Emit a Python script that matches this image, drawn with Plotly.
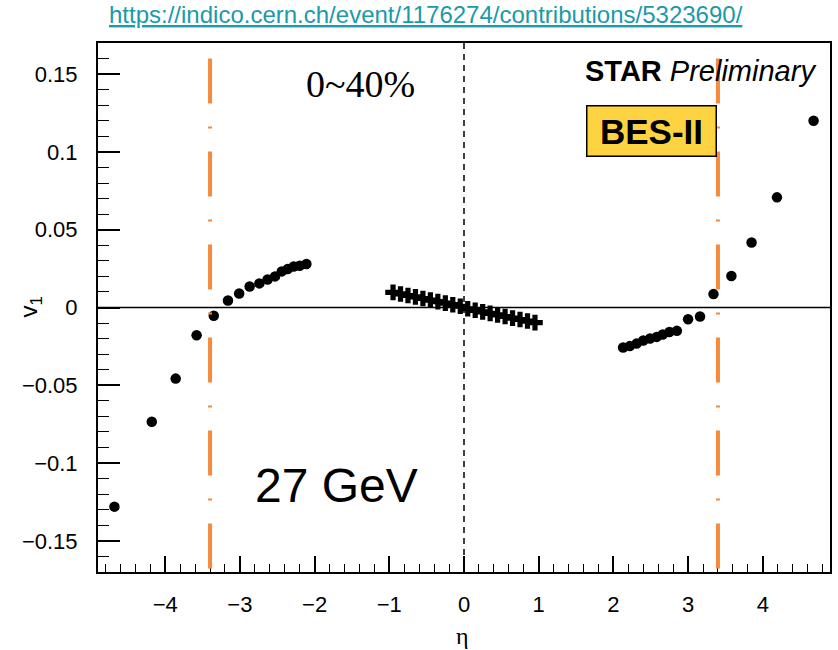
import plotly.graph_objects as go

# ---- data ----
left_eta = [-4.68, -4.18, -3.86, -3.58, -3.35, -3.16, -3.01, -2.87, -2.74, -2.63,
            -2.53, -2.44, -2.36, -2.28, -2.20, -2.11]
left_v1 = [-0.128, -0.0734, -0.0457, -0.0178, -0.0053, 0.0045, 0.0090, 0.0135, 0.0155,
           0.0180, 0.0200, 0.0232, 0.0247, 0.0264, 0.0268, 0.0280]

mid_eta = [-0.95, -0.85, -0.75, -0.65, -0.55, -0.45, -0.35, -0.25, -0.15, -0.05,
           0.05, 0.15, 0.25, 0.35, 0.45, 0.55, 0.65, 0.75, 0.85, 0.95]
mid_v1 = [0.0097, 0.0087, 0.0077, 0.0068, 0.0058, 0.0048, 0.0038, 0.0028, 0.0018, 0.0008,
          -0.0008, -0.0018, -0.0028, -0.0038, -0.0048, -0.0058, -0.0068, -0.0077, -0.0087, -0.0097]

right_eta = [2.13, 2.22, 2.31, 2.40, 2.49, 2.58, 2.66, 2.75, 2.85, 3.00, 3.16, 3.34,
             3.58, 3.85, 4.19, 4.68]
right_v1 = [-0.0257, -0.0248, -0.0232, -0.0212, -0.0200, -0.0189, -0.0173, -0.0158,
            -0.0150, -0.0075, -0.0058, 0.0086, 0.0202, 0.0418, 0.0708, 0.120]

cut_eta = [-3.4, 3.4]
x_range = [-4.9, 4.9]
y_range = [-0.17, 0.17]

SANS = "Liberation Sans, Arial, sans-serif"
SERIF = "Liberation Serif, Times New Roman, serif"

fig = go.Figure()
fig.add_trace(go.Scatter(x=left_eta + right_eta, y=left_v1 + right_v1, mode="markers",
                         marker=dict(symbol="circle", size=10.5, color="black"),
                         showlegend=False))
fig.add_trace(go.Scatter(x=mid_eta, y=mid_v1, mode="markers",
                         marker=dict(symbol="cross", size=13, color="black"),
                         showlegend=False))

# zero lines
fig.add_shape(type="line", xref="x", yref="y", x0=x_range[0], x1=x_range[1], y0=0, y1=0,
              line=dict(color="black", width=1.5))
fig.add_shape(type="line", xref="x", yref="y", x0=0, x1=0, y0=y_range[1], y1=y_range[0],
              line=dict(color="black", width=1.5, dash="6px,5px"))
# acceptance boundaries
for xe in cut_eta:
    fig.add_shape(type="line", xref="x", yref="y", x0=xe, x1=xe, y0=0.16, y1=y_range[0],
                  line=dict(color="#F68B3D", width=4, dash="45px,23px,2px,23px"))

axis_common = dict(showgrid=False, zeroline=False, showline=True, linecolor="black",
                   linewidth=2, mirror=True, ticks="inside", tickcolor="black",
                   tickwidth=1.5, tickfont=dict(family=SANS, size=22, color="black"))

fig.update_xaxes(range=x_range, dtick=1, tick0=0, ticklen=16, ticklabelstandoff=12,
                 minor=dict(ticks="inside", dtick=0.2, tick0=0, ticklen=8, tickwidth=1.2,
                            tickcolor="black"),
                 **axis_common)
fig.update_yaxes(range=y_range, dtick=0.05, tick0=0, ticklen=22, ticklabelstandoff=14,
                 minor=dict(ticks="inside", dtick=0.01, tick0=0, ticklen=11, tickwidth=1.2,
                            tickcolor="black"),
                 **axis_common)

annotations = [
    dict(text="https://indico.cern.ch/event/1176274/contributions/5323690/",
         xref="paper", yref="paper", x=0.448, y=1, yshift=29, xanchor="center",
         yanchor="middle", showarrow=False,
         font=dict(family=SANS, size=24, color="#1B9AA7", lineposition="under")),
    dict(text="0~40%", xref="x", yref="y", x=-1.387, y=0.1437, showarrow=False,
         xanchor="center", yanchor="middle", font=dict(family=SERIF, size=38, color="black")),
    dict(text="<b>STAR</b> <i>Preliminary</i>", xref="x", yref="y", x=4.733, y=0.1517,
         showarrow=False, xanchor="right", yanchor="middle",
         font=dict(family=SANS, size=29, color="black")),
    dict(text="<b>BES-II</b>", xref="x", yref="y", x=2.507, y=0.1134, showarrow=False,
         xanchor="center", yanchor="middle", width=126, height=47, bgcolor="#FDD342",
         bordercolor="black", borderwidth=1.5, borderpad=1,
         font=dict(family=SANS, size=35, color="black")),
    dict(text="27 GeV", xref="x", yref="y", x=-1.711, y=-0.1141, showarrow=False,
         xanchor="center", yanchor="middle", font=dict(family=SANS, size=48, color="black")),
    dict(text="v<sub>1</sub>", xref="paper", yref="y", x=0, xshift=-68, y=0,
         showarrow=False, textangle=-90, xanchor="center", yanchor="middle",
         font=dict(family=SANS, size=24, color="black")),
    dict(text="η", xref="x", yref="paper", x=0, xshift=-2, y=0, yshift=-64,
         showarrow=False, xanchor="center", yanchor="middle",
         font=dict(family=SERIF, size=24, color="black")),
]
fig.update_layout(width=838, height=650, margin=dict(l=98, r=6, t=43, b=78),
                  paper_bgcolor="white", plot_bgcolor="white", annotations=annotations,
                  showlegend=False)

fig.write_html("out.html", config={"displayModeBar": False},
               post_script="document.body.style.margin='0';document.body.style.overflow='hidden';")
